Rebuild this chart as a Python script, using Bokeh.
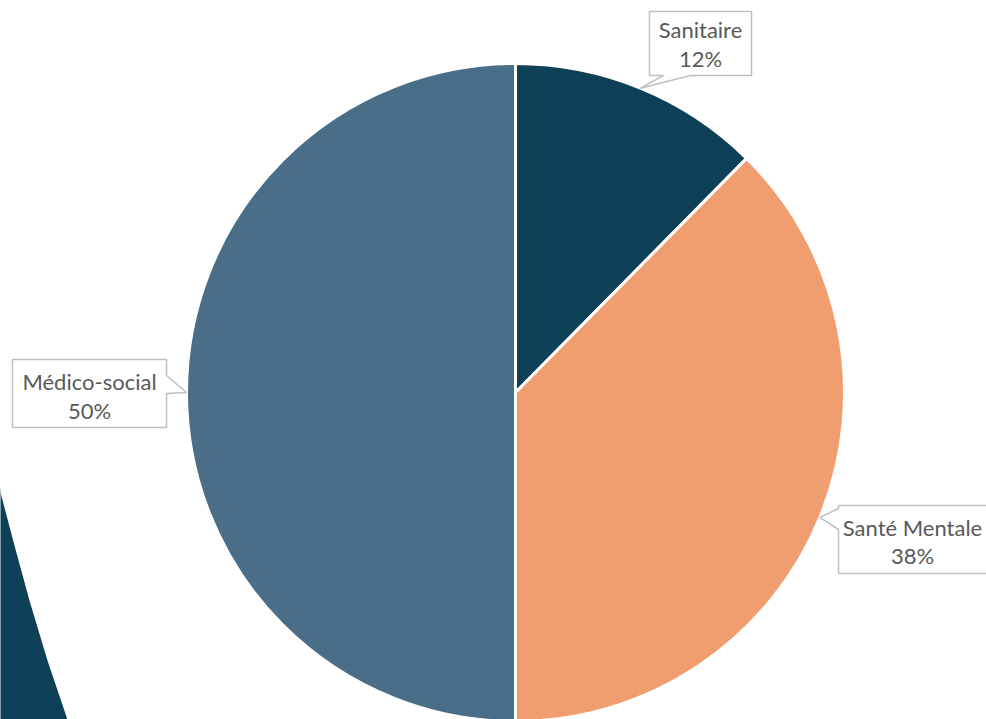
import numpy as np
from bokeh.plotting import figure
from bokeh.models import Range1d
from bokeh.core.properties import value
from bokeh.embed import file_html
from bokeh.resources import INLINE

categories = ["Sanitaire", "Santé Mentale", "Médico-social"]
shares = [12.4, 37.6, 50.0]
colors = ["#0E4058", "#F09E6F", "#4A6E88"]

W, H = 986, 719
p = figure(width=W, height=H, x_range=Range1d(0, 986), y_range=Range1d(0, 719),
           output_backend="svg", toolbar_location=None, min_border=0)
p.axis.visible = False
p.grid.visible = False
p.outline_line_color = None
p.background_fill_color = "white"
p.border_fill_color = "white"


def Y(sy):
    return 719 - sy


# decorative shape bottom-left
dec_x = [-20, 0, 15, 30, 48, 68, 80, -20]
dec_y = [Y(s) for s in [470, 488, 545, 600, 660, 719, 760, 760]]
p.patch(dec_x, dec_y, fill_color="#0E4058", line_color="white", line_width=2)

cx, cy, r = 515, Y(392), 329
fr = np.array(shares) / sum(shares)
cum = np.concatenate([[0], np.cumsum(fr)])
start = np.pi / 2 - 2 * np.pi * cum[1:]
end = np.pi / 2 - 2 * np.pi * cum[:-1]
p.wedge(x=cx, y=cy, radius=r, start_angle=list(start), end_angle=list(end),
        fill_color=colors, line_color="white", line_width=3)

mid = (start + end) / 2
tips = [(cx + r * np.cos(a), cy + r * np.sin(a)) for a in mid]

# callout boxes (screen coords): x0, x1, y0, y1, tail side, tail a, tail b, text center x, line ys
boxes = {
    "Sanitaire": (649, 751, 11, 75, "bottom", 663, 690, 700, (29, 58)),
    "Santé Mentale": (838, 1000, 505, 573, "left", 508, 529, 912, (527, 555)),
    "Médico-social": (12, 166, 359, 427, "right", 375, 393, 89, (381, 410)),
}

for i, cat in enumerate(categories):
    x0, x1, y0, y1, side, a, b, tx, (ly1, ly2) = boxes[cat]
    tip_x, tip_y = tips[i]
    tip = (tip_x, 719 - tip_y)
    if side == "bottom":
        pts = [(x0, y0), (x1, y0), (x1, y1), (b, y1), tip, (a, y1), (x0, y1)]
    elif side == "left":
        pts = [(x0, y0), (x1, y0), (x1, y1), (x0, y1), (x0, b), tip, (x0, a)]
    else:
        pts = [(x0, y0), (x1, y0), (x1, a), tip, (x1, b), (x1, y1), (x0, y1)]
    p.patch([q[0] for q in pts], [Y(q[1]) for q in pts], fill_color="white",
            line_color="#BFBFBF", line_width=1.5)
    pct = "{:.0f}%".format(shares[i])
    p.text(x=[tx, tx], y=[Y(ly1), Y(ly2)], text=[cat, pct],
           text_font=value("Lato"), text_font_size="22px", text_color="#595959",
           text_align="center", text_baseline="middle")

open("out.html", "w").write(file_html(p, INLINE))
